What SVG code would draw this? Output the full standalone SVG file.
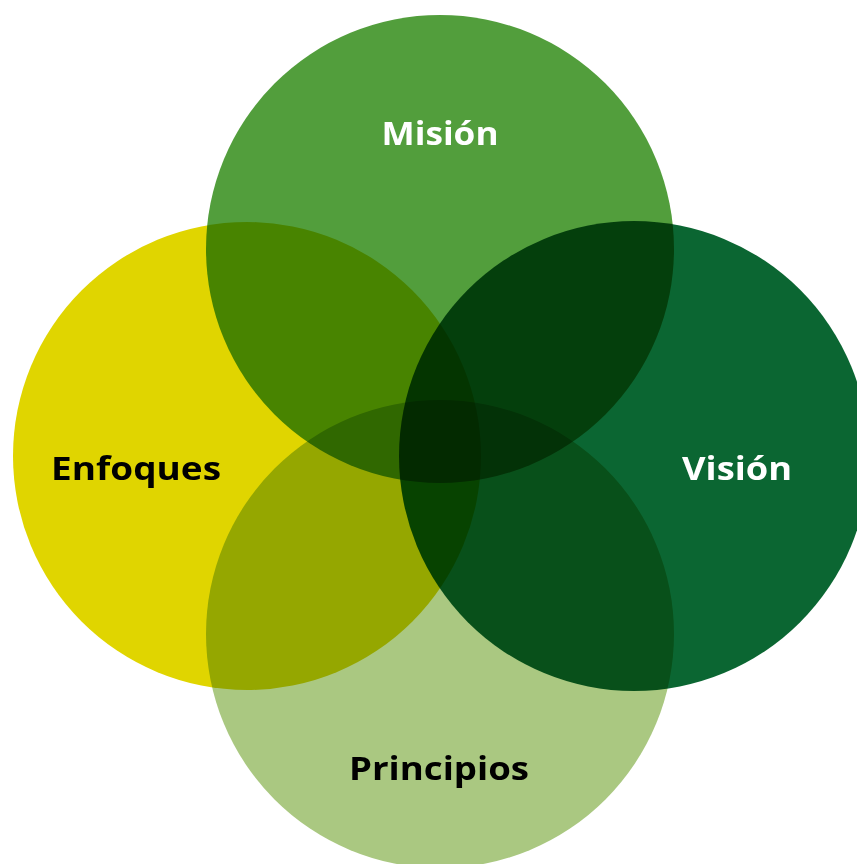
<svg xmlns="http://www.w3.org/2000/svg" width="857" height="864" viewBox="0 0 857 864">
<style>
.c{mix-blend-mode:multiply}
.t{font-family:"Open Sans","Liberation Sans",sans-serif;font-weight:700;font-size:33px;text-anchor:middle}
</style>
<rect width="857" height="864" fill="#ffffff"/>
<g style="isolation:isolate">
<g id="mision"><circle class="c" cx="440" cy="249" r="234" fill="#529E3C"/></g>
<g id="enfoques"><circle class="c" cx="247" cy="456" r="234" fill="#E0D500"/></g>
<g id="vision"><circle class="c" cx="634" cy="456" r="235" fill="#0B6632"/></g>
<g id="principios"><circle class="c" cx="440" cy="634" r="234" fill="#AAC881"/></g>
</g>
<g id="labels">
<text class="t" x="440" y="145" fill="#ffffff" textLength="117" lengthAdjust="spacingAndGlyphs">Misión</text>
<text class="t" x="136" y="480" fill="#000000" textLength="170" lengthAdjust="spacingAndGlyphs">Enfoques</text>
<text class="t" x="737" y="480" fill="#ffffff" textLength="110" lengthAdjust="spacingAndGlyphs">Visión</text>
<text class="t" x="439" y="780" fill="#000000" textLength="180" lengthAdjust="spacingAndGlyphs">Principios</text>
</g>
</svg>
